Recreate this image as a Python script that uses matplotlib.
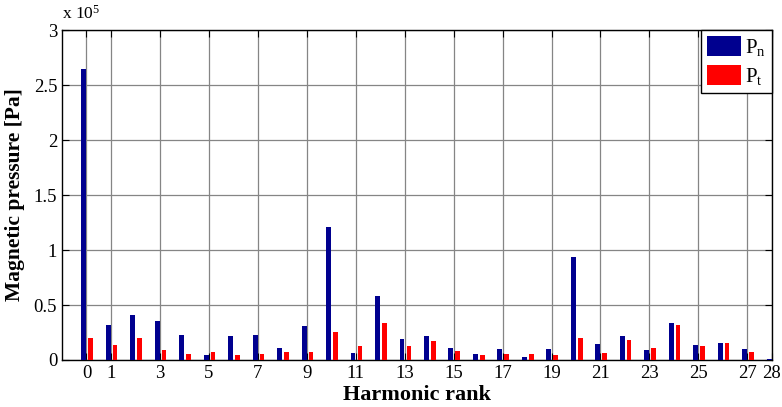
import numpy as np
import matplotlib
matplotlib.use("Agg")
import matplotlib.pyplot as plt

plt.rcParams['font.family'] = ['Liberation Serif', 'DejaVu Serif']
plt.rcParams['mathtext.fontset'] = 'custom'
plt.rcParams['mathtext.rm'] = 'Liberation Serif'
plt.rcParams['mathtext.it'] = 'Liberation Serif'

# Harmonic ranks and magnetic pressure amplitudes (x 1e5 Pa)
harmonics = np.arange(0, 29)
p_normal = [2.65, 0.32, 0.41, 0.355, 0.227, 0.045, 0.215, 0.227, 0.109, 0.31,
            1.21, 0.067, 0.58, 0.19, 0.22, 0.106, 0.055, 0.097, 0.03, 0.103,
            0.936, 0.143, 0.22, 0.09, 0.333, 0.133, 0.155, 0.097, 0.012]
p_tangential = [0.2, 0.14, 0.197, 0.09, 0.055, 0.07, 0.042, 0.055, 0.07, 0.076,
                0.255, 0.127, 0.333, 0.127, 0.173, 0.082, 0.042, 0.055, 0.055, 0.048,
                0.203, 0.064, 0.18, 0.106, 0.321, 0.124, 0.155, 0.076, 0.0]
xtick_vals = [0, 1, 3, 5, 7, 9, 11, 13, 15, 17, 19, 21, 23, 25, 27, 28]

fig = plt.figure(figsize=(7.82, 4.07), dpi=100)
ax = fig.add_axes([0.0793, 0.1155, 0.9077, 0.8105])

ax.bar(harmonics - 0.11, p_normal, width=0.2, color='#00008F', label=r'P$_\mathrm{n}$', zorder=3)
ax.bar(harmonics + 0.17, p_tangential, width=0.19, color='#FF0000', label=r'P$_\mathrm{t}$', zorder=3)

ax.set_xlim(-1, 28)
ax.set_ylim(0, 3)
ax.set_xticks(xtick_vals)
ax.set_yticks(np.arange(0, 3.01, 0.5))
ax.set_yticklabels(['0', '0.5', '1', '1.5', '2', '2.5', '3'])
ax.grid(True, color='#858585', linewidth=0.9, linestyle='-', zorder=0)
ax.set_axisbelow(True)
ax.tick_params(direction='in', top=True, right=True, length=5, labelsize=13.5)
for s in ax.spines.values():
    s.set_linewidth(1.0)

ax.set_xlabel('Harmonic rank', fontsize=16, fontweight='bold', labelpad=2)
ax.set_ylabel('Magnetic pressure [Pa]', fontsize=15.5, fontweight='bold', labelpad=6)
fig.text(0.0793, 0.945, r'x 10$^5$', fontsize=12.5, ha='left', va='bottom')

leg = ax.legend(loc='upper right', borderaxespad=0, fontsize=15, fancybox=False,
                edgecolor='black', framealpha=1, handlelength=1.6, handleheight=1.1,
                handletextpad=0.2, borderpad=0.3, labelspacing=0.3)
leg.get_frame().set_linewidth(1.0)

fig.savefig('out.png', dpi=100)
